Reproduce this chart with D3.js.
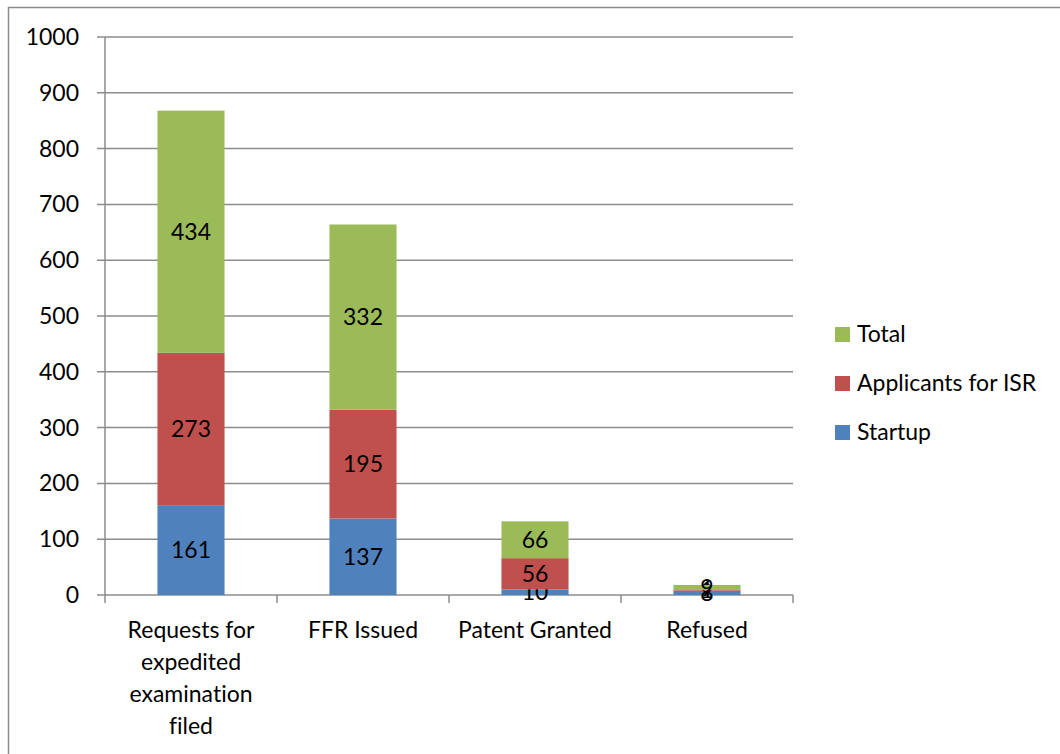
<!DOCTYPE html>
<html>
<head>
<meta charset="utf-8">
<script src="https://cdn.jsdelivr.net/npm/d3@7"></script>
<style>
  html, body { margin: 0; padding: 0; background: #fff; }
  svg { display: block; font-family: Lato, "Open Sans", sans-serif; font-variant-ligatures: none; }
</style>
</head>
<body>
<div id="chart"></div>
<script>
// Stacked columns: expedited examination figures

const categories = [
  ["Requests for", "expedited", "examination", "filed"],
  ["FFR Issued"],
  ["Patent Granted"],
  ["Refused"]
];
const startup = [161, 137, 10, 8];
const applicantsISR = [273, 195, 56, 1];
const total = [434, 332, 66, 9];
const yTicks = [0, 100, 200, 300, 400, 500, 600, 700, 800, 900, 1000];

const seriesNames = ["Startup", "Applicants for ISR", "Total"];
const seriesColors = ["#4F81BD", "#C0504D", "#9BBB59"];

const width = 1060, height = 754;
const plot = { left: 105, right: 793, top: 37, bottom: 595 };
const gridColor = "#8c8c8c";
const fontSize = "23px";

const rows = categories.map((c, i) => ({
  key: i,
  label: c,
  Startup: startup[i],
  "Applicants for ISR": applicantsISR[i],
  Total: total[i]
}));

const stack = d3.stack().keys(seriesNames)(rows);

const svg = d3.select("#chart").append("svg")
  .attr("width", width)
  .attr("height", height);

// outer frame
svg.append("rect")
  .attr("x", 8.5).attr("y", 7.5)
  .attr("width", width + 20).attr("height", height + 20)
  .attr("fill", "none")
  .attr("stroke", gridColor)
  .attr("stroke-width", 1.5);

const x = d3.scaleBand()
  .domain(rows.map(d => d.key))
  .range([plot.left, plot.right]);

const y = d3.scaleLinear()
  .domain([0, 1000])
  .range([plot.bottom, plot.top]);

const barW = x.bandwidth() * 0.39;

// gridlines + left ticks
svg.append("g")
  .selectAll("line")
  .data(yTicks)
  .join("line")
  .attr("x1", plot.left - 8)
  .attr("x2", plot.right)
  .attr("y1", d => y(d))
  .attr("y2", d => y(d))
  .attr("stroke", gridColor)
  .attr("stroke-width", 1.5);

// y axis line
svg.append("line")
  .attr("x1", plot.left).attr("x2", plot.left)
  .attr("y1", plot.top).attr("y2", plot.bottom)
  .attr("stroke", gridColor)
  .attr("stroke-width", 1.5);

// y tick labels
svg.append("g")
  .selectAll("text")
  .data(yTicks)
  .join("text")
  .attr("x", plot.left - 26)
  .attr("y", d => y(d))
  .attr("dy", "0.35em")
  .attr("text-anchor", "end")
  .style("font-size", fontSize)
  .attr("fill", "#000")
  .text(d => d);

// x axis ticks at category boundaries
const bounds = rows.map(d => x(d.key)).concat([plot.right]);
svg.append("g")
  .selectAll("line")
  .data(bounds)
  .join("line")
  .attr("x1", d => d).attr("x2", d => d)
  .attr("y1", plot.bottom).attr("y2", plot.bottom + 8)
  .attr("stroke", gridColor)
  .attr("stroke-width", 1.5);

// bars
const layers = svg.append("g")
  .selectAll("g")
  .data(stack)
  .join("g")
  .attr("fill", (d, i) => seriesColors[i]);

layers.selectAll("rect")
  .data(d => d)
  .join("rect")
  .attr("x", d => x(d.data.key) + (x.bandwidth() - barW) / 2)
  .attr("width", barW)
  .attr("y", d => y(d[1]))
  .attr("height", d => y(d[0]) - y(d[1]));

// value labels
layers.selectAll("text")
  .data(d => d)
  .join("text")
  .attr("x", d => x(d.data.key) + x.bandwidth() / 2)
  .attr("y", d => (y(d[0]) + y(d[1])) / 2)
  .attr("dy", "0.35em")
  .attr("text-anchor", "middle")
  .attr("fill", "#000")
  .style("font-size", fontSize)
  .text(d => d[1] - d[0]);

// category labels
const catLabels = svg.append("g")
  .selectAll("text")
  .data(rows)
  .join("text")
  .attr("x", d => x(d.key) + x.bandwidth() / 2)
  .attr("y", 630)
  .attr("text-anchor", "middle")
  .attr("fill", "#000")
  .style("font-size", fontSize);

catLabels.selectAll("tspan")
  .data(d => d.label)
  .join("tspan")
  .attr("x", function () { return d3.select(this.parentNode).attr("x"); })
  .attr("y", (d, i) => 630 + i * 32)
  .attr("dy", "0.35em")
  .text(d => d);

// legend (reverse order: Total on top)
const legendItems = seriesNames.map((n, i) => ({ name: n, color: seriesColors[i] })).reverse();
const legend = svg.append("g")
  .selectAll("g")
  .data(legendItems)
  .join("g")
  .attr("transform", (d, i) => `translate(835,${334 + i * 49})`);

legend.append("rect")
  .attr("x", 0).attr("y", -7)
  .attr("width", 15).attr("height", 15)
  .attr("fill", d => d.color);

legend.append("text")
  .attr("x", 22)
  .attr("y", 0)
  .attr("dy", "0.35em")
  .attr("fill", "#000")
  .style("font-size", fontSize)
  .text(d => d.name);
</script>
</body>
</html>
